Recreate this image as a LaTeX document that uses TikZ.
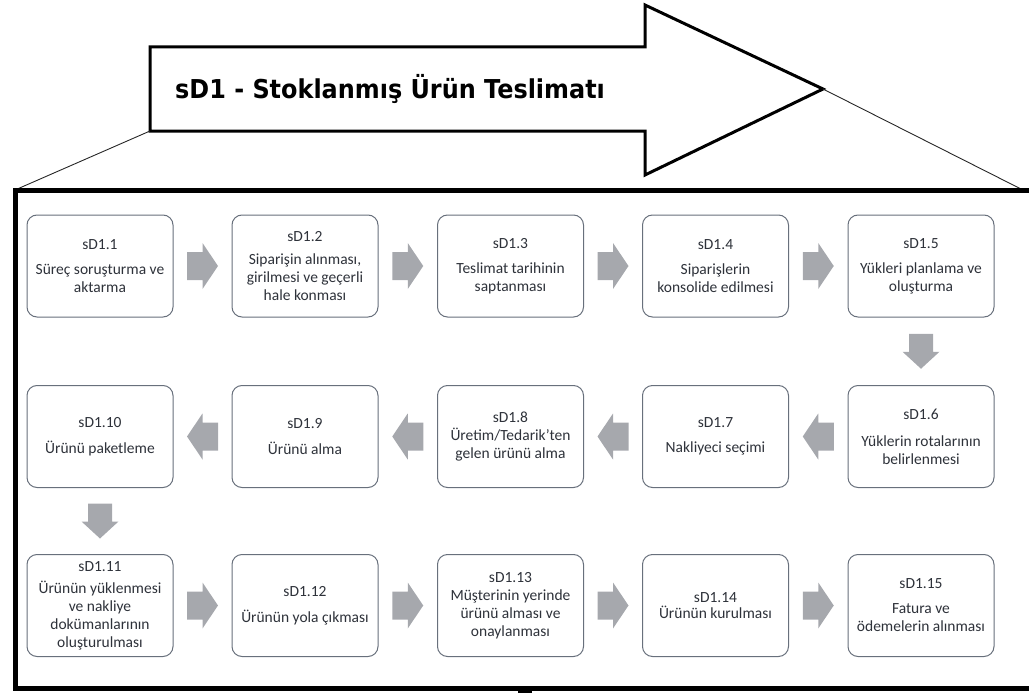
\documentclass[tikz,border=0pt]{standalone}
\usepackage{fontspec}
\setmainfont{Carlito}
\newfontfamily\titlefont{DejaVu Sans}
\usetikzlibrary{calc}

\definecolor{arrowgray}{RGB}{166,168,173}
\definecolor{boxline}{RGB}{104,112,124}
\definecolor{boxtext}{RGB}{46,50,58}

\tikzset{
  stepbox/.style={draw=boxline, line width=1pt, fill=white, rounded corners=10pt,
    minimum width=146pt, minimum height=102pt, inner sep=2pt, align=center,
    text=boxtext, font=\fontsize{15.5}{18}\selectfont},
  frameline/.style={line width=5pt, draw=black},
  guide/.style={line width=0.9pt, draw=black!85},
}

% gray block arrow half way between two nodes
% #1,#2 nodes, #3 rotation, #4 total length, #5 shaft half width, #6 head half width, #7 head length
\newcommand\blockarrow[7]{%
  \path ($(#1)!0.5!(#2)$) coordinate (mid);
  \fill[arrowgray, shift={(mid)}, rotate=#3]
    ({-#4/2},{-#5}) -- ({#4/2-#7},{-#5}) -- ({#4/2-#7},{-#6}) -- ({#4/2},0)
    -- ({#4/2-#7},{#6}) -- ({#4/2-#7},{#5}) -- ({-#4/2},{#5}) -- cycle;
}
\newcommand\hblock[3]{\blockarrow{#1}{#2}{#3}{31}{14}{23}{15.5}}
\newcommand\vblock[2]{\blockarrow{#1}{#2}{-90}{35}{12}{18.5}{17}}

\begin{document}
\begin{tikzpicture}[x=1pt, y=-1pt]
  \useasboundingbox (0,0) rectangle (1029,693);
  \clip (0,0) rectangle (1029,693);

  % title arrow
  \coordinate (abl) at (150,131);
  \coordinate (atip) at (823,89);
  \draw[line width=3pt, fill=white, line join=miter]
    (150,47) -- (645,47) -- (645,5) -- (atip) -- (645,175) -- (645,131) -- (abl) -- cycle;
  \node[anchor=west, inner sep=0pt] (title) at (175,89)
    {\scalebox{0.92}[1]{\titlefont\bfseries\fontsize{26}{30}\selectfont sD1 - Stoklanmış Ürün Teslimatı}};

  % frame and guide lines
  \coordinate (ftl) at (15,190);
  \coordinate (ftr) at (1023,190);
  \draw[guide] (abl) -- (ftl);
  \draw[guide] (atip) -- (ftr);
  \draw[frameline] (1040,190) -- (15,190) -- (15,688) -- (1040,688);
  \fill (518,687) rectangle (532,693);

  % row 1
  \node[stepbox] (b1) at (100,266) {sD1.1\\[7pt]Süreç soruşturma ve\\aktarma};
  \node[stepbox] (b2) at (305,266) {sD1.2\\[5pt]Siparişin alınması,\\girilmesi ve geçerli\\hale konması};
  \node[stepbox] (b3) at (510.5,266) {sD1.3\\[7pt]Teslimat tarihinin\\saptanması};
  \node[stepbox] (b4) at (715.5,266) {sD1.4\\[7pt]Siparişlerin\\konsolide edilmesi};
  \node[stepbox] (b5) at (921,266) {sD1.5\\[7pt]Yükleri planlama ve\\oluşturma};

  % row 2
  \node[stepbox] (b6) at (921,436.5) {sD1.6\\[9pt]Yüklerin rotalarının\\belirlenmesi};
  \node[stepbox] (b7) at (715.5,436.5) {sD1.7\\[7pt]Nakliyeci seçimi};
  \node[stepbox] (b8) at (510.5,436.5) {sD1.8\\Üretim/Tedarik'ten\\gelen ürünü alma};
  \node[stepbox] (b9) at (305,436.5) {sD1.9\\[8pt]Ürünü alma};
  \node[stepbox] (b10) at (100,436.5) {sD1.10\\[8pt]Ürünü paketleme};

  % row 3
  \node[stepbox] (b11) at (100,605.5) {sD1.11\\[4pt]Ürünün yüklenmesi\\ve nakliye\\dokümanlarının\\oluşturulması};
  \node[stepbox] (b12) at (305,605.5) {sD1.12\\[8pt]Ürünün yola çıkması};
  \node[stepbox] (b13) at (510.5,605.5) {sD1.13\\Müşterinin yerinde\\ürünü alması ve\\onaylanması};
  \node[stepbox] (b14) at (715.5,605.5) {sD1.14\\[-2pt]Ürünün kurulması};
  \node[stepbox] (b15) at (921,605.5) {sD1.15\\[7pt]Fatura ve\\ödemelerin alınması};

  % flow arrows
  \hblock{b1}{b2}{0}
  \hblock{b2}{b3}{0}
  \hblock{b3}{b4}{0}
  \hblock{b4}{b5}{0}
  \vblock{b5}{b6}
  \hblock{b6}{b7}{180}
  \hblock{b7}{b8}{180}
  \hblock{b8}{b9}{180}
  \hblock{b9}{b10}{180}
  \vblock{b10}{b11}
  \hblock{b11}{b12}{0}
  \hblock{b12}{b13}{0}
  \hblock{b13}{b14}{0}
  \hblock{b14}{b15}{0}
\end{tikzpicture}
\end{document}
